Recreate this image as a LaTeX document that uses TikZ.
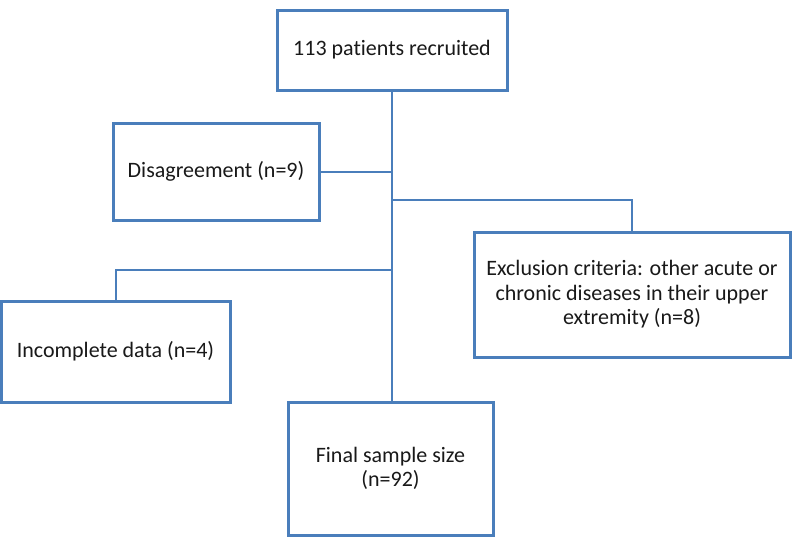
\documentclass[tikz,border=0pt]{standalone}
\usepackage{fontspec}
\setmainfont{Carlito}[Ligatures=NoCommon]
\definecolor{boxblue}{RGB}{74,126,187}
\begin{document}
\begin{tikzpicture}[x=1pt,y=-1pt,
  flowbox/.style={draw=boxblue, line width=3pt, fill=white, inner sep=0pt,
    align=center, font=\fontsize{22}{24.5}\selectfont, text=black!90},
  link/.style={draw=boxblue, line width=2pt}]
\useasboundingbox (0,0) rectangle (800,536);
\node[flowbox, minimum width=230pt, minimum height=80pt] (top) at (392,50) {113 patients recruited};
\node[flowbox, minimum width=206pt, minimum height=97pt] (dis) at (216,171.5) {Disagreement (n=9)};
\node[flowbox, minimum width=316pt, minimum height=125pt] (exc) at (632,294.5) {Exclusion criteria: other acute or\\chronic diseases in their upper\\extremity (n=8)};
\node[flowbox, minimum width=229pt, minimum height=101pt] (inc) at (115.5,351.5) {Incomplete data (n=4)};
\node[flowbox, minimum width=205pt, minimum height=133pt] (fin) at (390.5,468.5) {Final sample size\\(n=92)};
\coordinate (jd) at (top.south |- dis.east);
\coordinate (je) at (392,200);
\coordinate (ji) at (392,270);
\draw[link] (top.south) -- (top.south |- fin.north);
\draw[link] (dis.east) -- (jd);
\draw[link] (je) -| (exc.north);
\draw[link] (ji) -| (inc.north);
\end{tikzpicture}
\end{document}
